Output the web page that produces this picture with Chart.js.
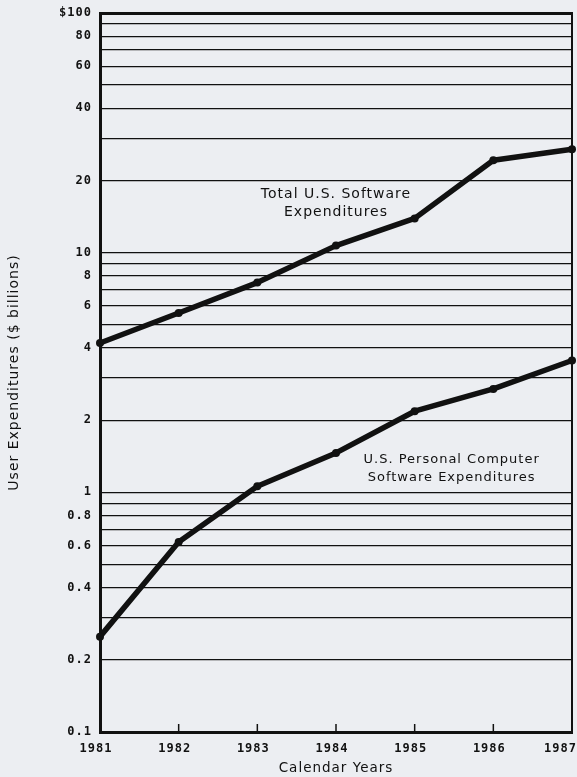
<!DOCTYPE html>
<html>
<head>
<meta charset="utf-8">
<title>Software Expenditures</title>
<script src="https://cdn.jsdelivr.net/npm/chart.js@4.4.1/dist/chart.umd.min.js"></script>
<style>
    html, body { margin: 0; padding: 0; background: #eceef2; overflow: hidden; }
    canvas { display: block; }
</style>
</head>
<body>
<canvas id="trendChart" width="577" height="777"></canvas>
<script>
// =========================
// DATA
// =========================
const years = ["1981", "1982", "1983", "1984", "1985", "1986", "1987"];
const totalSoftware = [4.2, 5.6, 7.5, 10.7, 13.9, 24.3, 27];
const pcSoftware = [0.25, 0.62, 1.06, 1.46, 2.18, 2.7, 3.55];

// log grid lines and the labelled ones
const yGridValues = [0.1, 0.2, 0.3, 0.4, 0.5, 0.6, 0.7, 0.8, 0.9,
                     1, 2, 3, 4, 5, 6, 7, 8, 9,
                     10, 20, 30, 40, 50, 60, 70, 80, 90, 100];
const yTickValues = [0.1, 0.2, 0.4, 0.6, 0.8, 1, 2, 4, 6, 8, 10, 20, 40, 60, 80, 100];
const yTickLabels = ["0.1", "0.2", "0.4", "0.6", "0.8", "1", "2", "4", "6", "8",
                     "10", "20", "40", "60", "80", "$100"];

const INK = "#111111";
const SANS = "'DejaVu Sans', sans-serif";
const MONO = "'DejaVu Sans Mono', monospace";

// =========================
// FRAME + CURVE NOTES
// =========================
const framePlugin = {
    id: "framePlugin",
    beforeUpdate(chart) { chart.ctx.letterSpacing = "1px"; },
    beforeDraw(chart) {
        chart.ctx.letterSpacing = "1px";
        // last year label sits against the right edge like the original
        const items = chart.scales.x.getLabelItems();
        const last = items[items.length - 1];
        if (last) {
            last.options.textAlign = "right";
            last.options.translation = [chart.width, last.options.translation[1]];
        }
    },
    afterDraw(chart) {
        const ctx = chart.ctx;
        const area = chart.chartArea;
        const xs = chart.scales.x;
        const ys = chart.scales.y;

        ctx.save();
        ctx.strokeStyle = INK;

        // right border
        ctx.lineWidth = 2;
        ctx.beginPath();
        ctx.moveTo(area.right, area.top - 1);
        ctx.lineTo(area.right, area.bottom + 1);
        ctx.stroke();

        // small inward year ticks
        ctx.lineWidth = 1.5;
        for (let i = 1; i < years.length - 1; i++) {
            const px = xs.getPixelForValue(i);
            ctx.beginPath();
            ctx.moveTo(px, area.bottom);
            ctx.lineTo(px, area.bottom - 8);
            ctx.stroke();
        }

        // curve labels
        ctx.letterSpacing = "1px";
        ctx.fillStyle = INK;
        ctx.textAlign = "center";
        ctx.textBaseline = "middle";

        ctx.font = "14px " + SANS;
        let tx = xs.getPixelForValue(3);
        let ty = ys.getPixelForValue(17.5);
        ctx.fillText("Total U.S. Software", tx, ty);
        ctx.fillText("Expenditures", tx, ty + 18);

        ctx.font = "13px " + SANS;
        tx = xs.getPixelForValue(4.47);
        ty = ys.getPixelForValue(1.37);
        ctx.fillText("U.S. Personal Computer", tx, ty);
        ctx.fillText("Software Expenditures", tx, ty + 18);

        ctx.restore();
    }
};

// =========================
// CHART
// =========================
const ctx = document.getElementById("trendChart").getContext("2d");

const lineStyle = {
    borderColor: INK,
    backgroundColor: INK,
    borderWidth: 5.5,
    borderJoinStyle: "round",
    borderCapStyle: "round",
    tension: 0,
    pointRadius: 4,
    pointBackgroundColor: INK,
    pointBorderWidth: 0,
    clip: false
};

new Chart(ctx, {
    type: "line",
    data: {
        labels: years,
        datasets: [
            Object.assign({ label: "Total U.S. Software Expenditures", data: totalSoftware }, lineStyle),
            Object.assign({ label: "U.S. Personal Computer Software Expenditures", data: pcSoftware }, lineStyle)
        ]
    },
    options: {
        responsive: false,
        animation: false,
        layout: { padding: { top: 13, right: 5, left: 0, bottom: 0 } },
        plugins: {
            legend: { display: false },
            tooltip: { enabled: false }
        },
        scales: {
            x: {
                type: "category",
                offset: false,
                grid: { display: false, drawTicks: false },
                border: { display: true, color: INK, width: 3 },
                ticks: {
                    color: INK,
                    padding: 10,
                    labelOffset: -4,
                    maxRotation: 0,
                    autoSkip: false,
                    font: { family: MONO, size: 12, weight: "bold" }
                },
                title: {
                    display: true,
                    text: "Calendar Years",
                    color: INK,
                    padding: { top: 0, bottom: 0 },
                    font: { family: SANS, size: 13.5 }
                },
                afterFit(scale) {
                    scale.height = 45;
                    scale.paddingLeft = 0;
                    scale.paddingRight = 0;
                }
            },
            y: {
                type: "logarithmic",
                min: 0.1,
                max: 100,
                afterBuildTicks(scale) {
                    scale.ticks = yGridValues.map(v => ({ value: v }));
                },
                grid: {
                    color: INK,
                    drawTicks: false,
                    lineWidth: c => (c.tick && (c.tick.value === 100 || c.tick.value === 0.1)) ? 3 : 1.3
                },
                border: { display: true, color: INK, width: 3 },
                ticks: {
                    color: INK,
                    padding: 8,
                    autoSkip: false,
                    font: { family: MONO, size: 12, weight: "bold" },
                    callback: function (value) {
                        const i = yTickValues.findIndex(v => Math.abs(v - value) < 1e-9);
                        return i >= 0 ? yTickLabels[i] : "";
                    }
                },
                title: {
                    display: true,
                    text: "User Expenditures ($ billions)",
                    color: INK,
                    padding: { top: 6, bottom: 0 },
                    font: { family: SANS, size: 14 }
                },
                afterFit(scale) {
                    scale.width = 100;
                    scale.paddingTop = 0;
                    scale.paddingBottom = 0;
                }
            }
        }
    },
    plugins: [framePlugin]
});
</script>
</body>
</html>
